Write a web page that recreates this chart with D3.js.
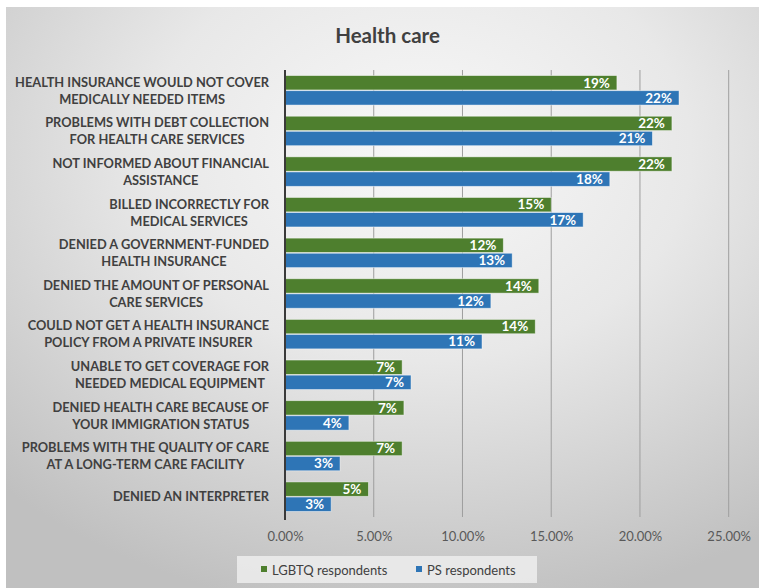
<!DOCTYPE html>
<html>
<head>
<meta charset="utf-8">
<script src="https://cdn.jsdelivr.net/npm/d3@7"></script>
<style>
  html, body { margin: 0; padding: 0; background: #ffffff; }
  svg { display: block; }
</style>
</head>
<body>
<svg id="chart" width="759" height="588"></svg>
<script>
// Categories, each split into the lines it is printed on
const categories = [
  ["HEALTH INSURANCE WOULD NOT COVER", "MEDICALLY NEEDED ITEMS"],
  ["PROBLEMS WITH DEBT COLLECTION", "FOR HEALTH CARE SERVICES"],
  ["NOT INFORMED ABOUT FINANCIAL", "ASSISTANCE"],
  ["BILLED INCORRECTLY FOR", "MEDICAL SERVICES"],
  ["DENIED A GOVERNMENT-FUNDED", "HEALTH INSURANCE"],
  ["DENIED THE AMOUNT OF PERSONAL", "CARE SERVICES"],
  ["COULD NOT GET A HEALTH INSURANCE", "POLICY FROM A PRIVATE INSURER"],
  ["UNABLE TO GET COVERAGE FOR", "NEEDED MEDICAL EQUIPMENT"],
  ["DENIED HEALTH CARE BECAUSE OF", "YOUR IMMIGRATION STATUS"],
  ["PROBLEMS WITH THE QUALITY OF CARE", "AT A LONG-TERM CARE FACILITY"],
  ["DENIED AN INTERPRETER"]
];

// Share of respondents (percent)
const lgbtqValues = [18.7, 21.8, 21.8, 15.0, 12.3, 14.3, 14.1, 6.6, 6.7, 6.6, 4.7];
const psValues    = [22.2, 20.7, 18.3, 16.8, 12.8, 11.6, 11.1, 7.1, 3.6, 3.1, 2.6];

const seriesNames = ["LGBTQ respondents", "PS respondents"];
const seriesColors = ["#4e7f2e", "#2e75b6"];
const xTicks = [0, 5, 10, 15, 20, 25];

const title = "Health care";

const W = 759, H = 588;
const svg = d3.select("#chart");
const FONT = "Lato, 'Open Sans', sans-serif";

// Background panel with soft radial shading
const defs = svg.append("defs");
const grad = defs.append("radialGradient")
  .attr("id", "bg").attr("cx", "55%").attr("cy", "25%").attr("r", "80%");
grad.append("stop").attr("offset", "0%").attr("stop-color", "#f8f8f8");
grad.append("stop").attr("offset", "45%").attr("stop-color", "#e8e8e8");
grad.append("stop").attr("offset", "100%").attr("stop-color", "#c0c0c0");

svg.append("rect")
  .attr("x", 6).attr("y", 7).attr("width", W - 6).attr("height", H - 7)
  .attr("fill", "url(#bg)");

// Scales
const plotTop = 70, plotBottom = 517;
const x = d3.scaleLinear().domain([0, 25]).range([285, 728.7]);
const y = d3.scaleBand().domain(d3.range(categories.length)).range([plotTop, plotBottom]);
const ySub = d3.scaleBand().domain([0, 1]).range([0, y.bandwidth()])
  .paddingInner(0.05).paddingOuter(0.37);

// Title
svg.append("text")
  .attr("x", 387.5).attr("y", 43)
  .attr("text-anchor", "middle")
  .attr("font-family", FONT).attr("font-weight", 700).attr("font-size", 20.5)
  .attr("fill", "#404040")
  .text(title);

// Vertical gridlines
svg.append("g")
  .selectAll("line")
  .data(xTicks.filter(d => d > 0))
  .join("line")
  .attr("x1", d => x(d)).attr("x2", d => x(d))
  .attr("y1", plotTop).attr("y2", plotBottom)
  .attr("stroke", "#9e9e9e").attr("stroke-width", 1);

// X axis tick labels
const xAxis = d3.axisBottom(x).tickValues(xTicks)
  .tickFormat(d => d3.format(".2f")(d) + "%").tickSize(0).tickPadding(0);
const gx = svg.append("g").attr("transform", `translate(0, 529)`).call(xAxis);
gx.select(".domain").remove();
gx.selectAll("text")
  .attr("font-family", FONT).attr("font-size", 13)
  .attr("fill", "#595959").attr("dy", "0.95em");

// Bars
const rows = categories.map((c, i) => ({ i, vals: [lgbtqValues[i], psValues[i]] }));
const gRows = svg.append("g").selectAll("g")
  .data(rows).join("g")
  .attr("transform", d => `translate(0, ${y(d.i)})`);

const cells = gRows.selectAll("g.cell")
  .data(d => d.vals.map((v, s) => ({ v, s })))
  .join("g").attr("class", "cell");

cells.append("rect")
  .attr("x", x(0))
  .attr("y", d => ySub(d.s))
  .attr("width", d => x(d.v) - x(0))
  .attr("height", ySub.bandwidth())
  .attr("fill", d => seriesColors[d.s])
  .attr("stroke", "rgba(255,255,255,0.55)")
  .attr("stroke-width", 0.8);

const fmt = d3.format(".0f");
cells.append("text")
  .attr("x", d => x(d.v) - 7)
  .attr("y", d => ySub(d.s) + ySub.bandwidth() / 2 + 4.8)
  .attr("text-anchor", "end")
  .attr("font-family", FONT).attr("font-weight", 700).attr("font-size", 13.5)
  .attr("fill", "#ffffff")
  .text(d => fmt(d.v) + "%");

// Zero axis line
svg.append("line")
  .attr("x1", x(0)).attr("x2", x(0))
  .attr("y1", plotTop).attr("y2", plotBottom + 3)
  .attr("stroke", "#3a3a3a").attr("stroke-width", 2);

// Category labels: lines centred within a right-aligned block
const labelRight = 269;
const capH = 9.6, lineGap = 17;
const gLabels = svg.append("g");
categories.forEach((lines, i) => {
  const cy = y(i) + y.bandwidth() / 2;
  const g = gLabels.append("g");
  const texts = lines.map((line, k) => g.append("text")
    .attr("font-family", FONT).attr("font-weight", 700).attr("font-size", 12.8)
    .attr("fill", "#404040")
    .attr("text-anchor", "middle")
    .text(line));
  const widths = texts.map(t => t.node().getComputedTextLength());
  const maxW = d3.max(widths);
  const cx = labelRight - maxW / 2;
  const totalH = capH + lineGap * (lines.length - 1);
  const firstBase = cy - totalH / 2 + capH;
  texts.forEach((t, k) => t.attr("x", cx).attr("y", firstBase + k * lineGap));
});

// Legend
const legend = svg.append("g");
legend.append("rect")
  .attr("x", 237).attr("y", 556).attr("width", 300).attr("height", 27)
  .attr("fill", "#ededed").attr("opacity", 0.85);
const legendX = [261, 416];
seriesNames.forEach((name, s) => {
  legend.append("rect")
    .attr("x", legendX[s]).attr("y", 566).attr("width", 6).attr("height", 6)
    .attr("fill", seriesColors[s]);
  legend.append("text")
    .attr("x", legendX[s] + 11).attr("y", 574.5)
    .attr("font-family", FONT).attr("font-size", 13)
    .attr("fill", "#404040")
    .text(name);
});
</script>
</body>
</html>
